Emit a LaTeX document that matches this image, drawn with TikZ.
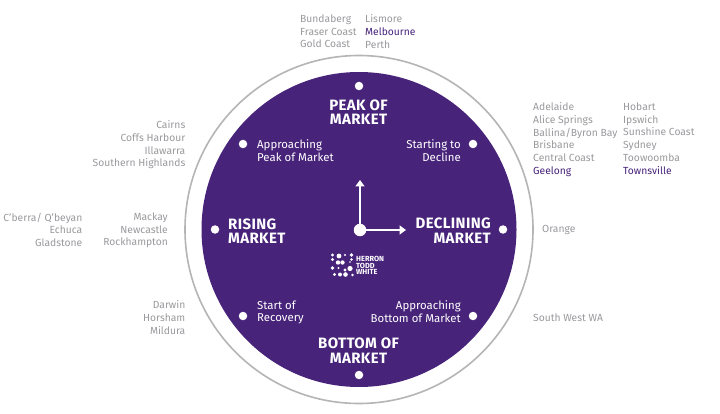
\documentclass[tikz,border=0pt]{standalone}
\usepackage{fontspec}
\setmainfont{Fira Sans}
\newfontfamily\headfont[LetterSpace=2.5,BoldFont={Fira Sans Bold}]{Fira Sans}
\definecolor{plum}{HTML}{47237A}
\definecolor{cityc}{HTML}{9A9A9E}
\definecolor{ringc}{HTML}{B5B5B5}
\usetikzlibrary{arrows.meta}
\tikzset{
 city/.style={text=cityc,font=\fontsize{10.3}{12.75}\selectfont,inner sep=0pt,align=left,anchor=north west},
 cityr/.style={text=cityc,font=\fontsize{10.3}{12.75}\selectfont,inner sep=0pt,align=right,anchor=north east},
 head/.style={text=white,font=\headfont\fontsize{15}{14.5}\bfseries\selectfont,inner sep=0pt,align=center},
 phase/.style={text=white,font=\fontsize{11.4}{12.3}\selectfont,inner sep=0pt},
 dot/.style={circle,fill=white,minimum size=8.5pt,inner sep=0pt},
 hand/.style={draw=white,line width=2.2pt,-{Triangle[length=6.5pt,width=9pt]}},
 logo/.style={circle,fill=white,inner sep=0pt},
}
\def\hi#1{\textcolor{plum}{#1}}
\begin{document}
\begin{tikzpicture}[x=1pt,y=-1pt]
\useasboundingbox (0,0) rectangle (720,414);
\fill[white] (0,0) rectangle (720,414);
\draw[ringc,line width=1.6pt] (359,229.5) circle (174);
\fill[plum] (359,229.5) circle (157.5);
% outer city lists
\node[city] (top1) at (300,14.5) {Bundaberg\\Fraser Coast\\Gold Coast};
\node[city] (top2) at (365,14.5) {Lismore\\\hi{Melbourne}\\Perth};
\node[city] (r1) at (533,102.5) {Adelaide\\Alice Springs\\Ballina/Byron Bay\\Brisbane\\Central Coast\\\hi{Geelong}};
\node[city] (r2) at (623,102.5) {Hobart\\Ipswich\\Sunshine Coast\\Sydney\\Toowoomba\\\hi{Townsville}};
\node[cityr] (l1) at (185.5,120.5) {Cairns\\Coffs Harbour\\Illawarra\\Southern Highlands};
\node[cityr] (l2) at (168,212.5) {Mackay\\Newcastle\\Rockhampton};
\node[cityr] (l3) at (82.5,212.5) {C'berra/ Q'beyan\\Echuca\\Gladstone};
\node[cityr] (l4) at (185.5,300.5) {Darwin\\Horsham\\Mildura};
\node[city] (orange) at (542,225.5) {Orange};
\node[city] (sw) at (533,314) {South West WA};
% dots
\node[dot] (d12) at (359,86) {};
\node[dot] (d1) at (473,144) {};
\node[dot] (d3) at (503,229.5) {};
\node[dot] (d5) at (473,316) {};
\node[dot] (d6) at (359,375) {};
\node[dot] (d7) at (243,316) {};
\node[dot] (d9) at (215,229.5) {};
\node[dot] (d11) at (243,144) {};
% headings
\node[head] (peak) at (358.5,112) {PEAK OF\\MARKET};
\node[head] (bottom) at (358.5,350.5) {BOTTOM OF\\MARKET};
\node[head,align=left,anchor=west] (rising) at (228,231) {RISING\\MARKET};
\node[head,align=right,anchor=east] (decl) at (491,230.5) {DECLINING\\MARKET};
\node[phase,align=left,anchor=west] (apeak) at (257,150.5) {Approaching\\Peak of Market};
\node[phase,align=right,anchor=east] (start) at (461,150.5) {Starting to\\Decline};
\node[phase,align=left,anchor=west] (rec) at (257,312.5) {Start of\\Recovery};
\node[phase,align=right,anchor=east] (abot) at (461,311.5) {Approaching\\Bottom of Market};
% clock hands
\node[circle,fill=white,minimum size=12.5pt,inner sep=0pt] (hub) at (360,230) {};
\coordinate (noon) at (360,180);
\coordinate (three) at (406,230);
\draw[hand] (hub) -- (noon);
\draw[hand] (hub) -- (three);
% logo
\foreach \x/\y/\r in {332.5/255/1.7,332.5/259.5/1.7,339/256/2.4,345/255/1.1,351.5/255/1.9,351.5/259.5/1.4,
 338/262.5/2.2,342.5/262.5/2.2,350/262/.9,
 332.5/268/1.8,338.5/268/1.1,345/270/1.7,350/268.5/2.6,
 334.5/274.5/1.7,340/274.5/2,345.5/274.5/2.3,352.5/275/1.4}
  \node[logo,minimum size=2*\r pt] at (\x,\y) {};
\node[text=white,font=\fontsize{7.4}{6.5}\bfseries\selectfont,inner sep=0pt,align=left,anchor=west] (brand) at (356,265.5) {HERRON\\TODD\\WHITE};
\end{tikzpicture}
\end{document}
